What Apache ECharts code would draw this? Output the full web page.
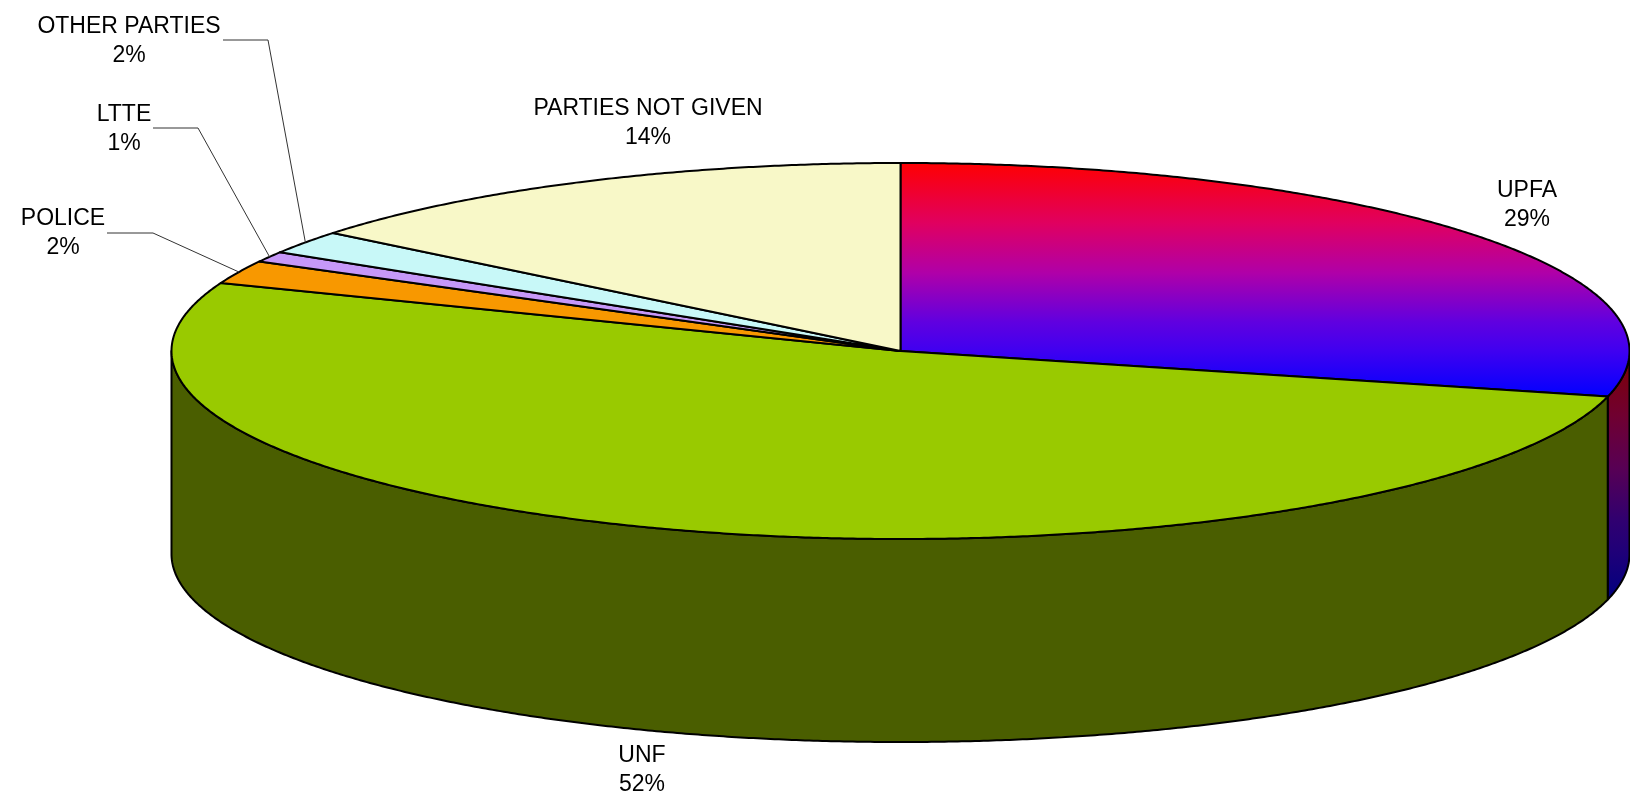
<!DOCTYPE html>
<html>
<head>
<meta charset="utf-8">
<style>html,body{margin:0;padding:0;background:#fff}#c{width:1630px;height:803px}</style>
<script src="https://cdn.jsdelivr.net/npm/echarts@6/dist/echarts.min.js"></script>
</head>
<body>
<div id="c"></div>
<script>
// Data (clockwise from 12 o'clock)
const categories = ['UPFA', 'UNF', 'POLICE', 'LTTE', 'OTHER PARTIES', 'PARTIES NOT GIVEN'];
const shares = [28.9, 52.0, 2.0, 0.9, 2.0, 14.2];

// Styling and layout, kept apart from the data
const TOP_FILLS = [null, '#99CA00', '#F89800', '#C698F8', '#C8F8F8', '#F8F8C8'];
const WALL_FILLS = [null, '#4A5E00', '#804C00', '#664C80', '#668080', '#808066'];
const TOP_GRADIENT = [[0, '#FF0000'], [0.26, '#E00060'], [0.47, '#B000A8'], [0.68, '#6000E0'], [0.8, '#4000F0'], [1, '#0000FF']];
const WALL_GRADIENT = [[0, '#800000'], [0.26, '#700030'], [0.47, '#580054'], [0.68, '#300070'], [0.8, '#200078'], [1, '#000080']];
const LABEL_CENTRES = [[1527, 205.5], [642, 770.5], [63, 233.5], [124, 129.5], [129, 41], [648, 123.5]];
const LEADER_PATHS = [null, null, [[107, 233], [153, 233]], [[153, 128], [198, 128]], [[223, 40], [268, 40]], null];
const PIE = { cx: 900.5, cy: 351, rx: 729, ry: 188, depth: 203 };

const total = shares.reduce((a, b) => a + b, 0);
const toAngle = v => v / total * 2 * Math.PI;
const rim = (t, drop) => [PIE.cx + PIE.rx * Math.sin(t), PIE.cy - PIE.ry * Math.cos(t) + (drop || 0)];
function arc(a, b, drop) {
  const n = Math.max(2, Math.ceil((b - a) / 0.006));
  const pts = [];
  for (let i = 0; i <= n; i++) pts.push(rim(a + (b - a) * i / n, drop));
  return pts;
}
const vGrad = stops => new echarts.graphic.LinearGradient(0, 0, 0, 1,
  stops.map(s => ({ offset: s[0], color: s[1] })));

function renderSlice(params, api) {
  const i = params.dataIndex;
  let before = 0;
  for (let k = 0; k < i; k++) before += shares[k];
  const a = toAngle(before);
  const b = a + toAngle(api.value(0));
  const children = [];
  const edge = { stroke: '#000', lineWidth: 2, lineJoin: 'round' };

  // Wall: only the front half of the rim (3 to 9 o'clock) is visible
  const wa = Math.max(a, Math.PI / 2), wb = Math.min(b, 1.5 * Math.PI);
  if (wb > wa) {
    const pts = arc(wa, wb, 0).concat(arc(wa, wb, PIE.depth).reverse());
    children.push({
      type: 'polygon', shape: { points: pts },
      style: Object.assign({ fill: i === 0 ? vGrad(WALL_GRADIENT) : WALL_FILLS[i] }, edge)
    });
  }
  // Top face
  children.push({
    type: 'polygon', shape: { points: [[PIE.cx, PIE.cy]].concat(arc(a, b, 0)) },
    style: Object.assign({ fill: i === 0 ? vGrad(TOP_GRADIENT) : TOP_FILLS[i] }, edge)
  });
  // Leader line, ending on the rim at the slice's mid-angle
  if (LEADER_PATHS[i]) {
    children.push({
      type: 'polyline', shape: { points: LEADER_PATHS[i].concat([rim((a + b) / 2, 0)]) },
      style: { stroke: '#333', lineWidth: 1, fill: null }
    });
  }
  // Label
  children.push({
    type: 'text',
    style: {
      text: api.value(1) + '\n' + Math.round(api.value(0) / total * 100) + '%',
      x: LABEL_CENTRES[i][0], y: LABEL_CENTRES[i][1],
      align: 'center', verticalAlign: 'middle',
      fontFamily: '"Liberation Sans", Arial, sans-serif', fontSize: 23, lineHeight: 29,
      fill: '#000'
    }
  });
  return { type: 'group', children };
}

const chart = echarts.init(document.getElementById('c'));
chart.setOption({
  backgroundColor: '#fff',
  animation: false,
  series: [{
    type: 'custom',
    coordinateSystem: 'none',
    silent: true,
    renderItem: renderSlice,
    data: shares.map((v, i) => [v, categories[i]]),
    dimensions: [{ name: 'share', type: 'number' }, { name: 'party', type: 'ordinal' }]
  }]
});
</script>
</body>
</html>
